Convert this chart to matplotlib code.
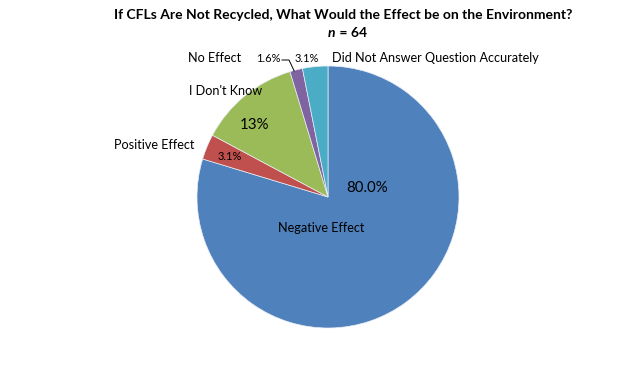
import numpy as np
import matplotlib
matplotlib.use("Agg")
import matplotlib.pyplot as plt
from matplotlib.transforms import Affine2D

plt.rcParams["font.family"] = ["Lato", "DejaVu Sans"]

# ---------- data ----------
categories = ["Negative Effect", "Positive Effect", "I Don't Know",
              "No Effect", "Did Not Answer Question Accurately"]
counts = [51, 2, 8, 1, 2]
pct_labels = ["80.0%", "3.1%", "13%", "1.6%", "3.1%"]
colors = ["#4F81BD", "#C0504D", "#9BBB59", "#8064A2", "#4BACC6"]

W, H = 640, 372
fig = plt.figure(figsize=(W / 100, H / 100), dpi=100)
ax = fig.add_axes([0, 0, 1, 1])

cx, cy, R = 328, 197, 131
wedges, _ = ax.pie(counts, colors=colors, startangle=90, counterclock=False,
                   radius=R, center=(cx, cy), frame=True,
                   wedgeprops=dict(linewidth=0.5, edgecolor="#e8eef6"))
# y axis is inverted (pixel-like coords), so mirror wedges around the centre
for w in wedges:
    w.set_transform(Affine2D().translate(-cx, -cy).scale(1, -1)
                    .translate(cx, cy) + ax.transData)
ax.set_xlim(0, W)
ax.set_ylim(H, 0)
ax.set_aspect("equal")
ax.axis("off")

# ---------- title ----------
ax.text(343, 15, "If CFLs Are Not Recycled, What Would the Effect be on the Environment?",
        ha="center", va="center", fontsize=10, fontweight="bold")
ax.text(335, 33, "n", ha="right", va="center", fontsize=10,
        fontweight="bold", fontstyle="italic")
ax.text(336, 33, " = 64", ha="left", va="center", fontsize=10, fontweight="bold")

# ---------- labels ----------
fs = 9.1
ax.text(321, 228, categories[0], ha="center", va="center", fontsize=fs)
ax.text(367, 188, pct_labels[0], ha="center", va="center", fontsize=10.8)
ax.text(154, 145, categories[1], ha="center", va="center", fontsize=fs)
ax.text(230, 157, pct_labels[1], ha="center", va="center", fontsize=8)
ax.text(226, 91, categories[2], ha="center", va="center", fontsize=fs)
ax.text(255, 125, pct_labels[2], ha="center", va="center", fontsize=10.8)
ax.text(215, 58, categories[3], ha="center", va="center", fontsize=fs)
ax.text(268, 58, pct_labels[3], ha="center", va="center", fontsize=8)
ax.text(307, 58, pct_labels[4], ha="center", va="center", fontsize=8)
ax.text(332, 58, categories[4], ha="left", va="center", fontsize=fs)

# leader line for the small purple slice
mid = np.deg2rad(90 - 360 * (sum(counts[:3]) + counts[3] / 2) / sum(counts))
ex, ey = cx + R * np.cos(mid), cy - R * np.sin(mid)
ax.plot([282, 289, ex - 2], [60, 60, ey + 1], color="black", lw=0.7)

fig.savefig("out.png", dpi=100)
